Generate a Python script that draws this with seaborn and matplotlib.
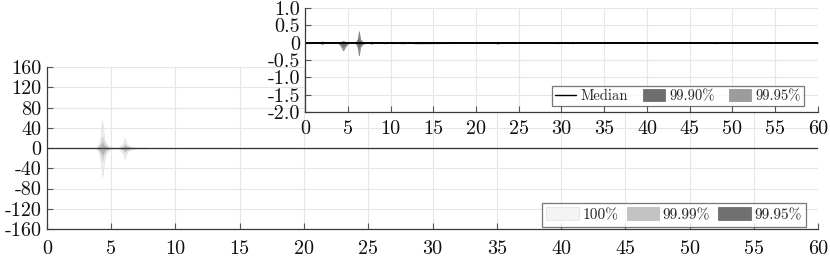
import matplotlib
matplotlib.use("Agg")
import matplotlib.pyplot as plt
import seaborn as sb
import pandas as pd
import numpy as np
from matplotlib.patches import Patch
from matplotlib.lines import Line2D

#================================================
# DATA

# main panel: envelope of the error, x in [0, 60]
main_x = [0, 3.8, 4.0, 4.15, 4.3, 4.45, 4.6, 4.8, 5.0, 5.3, 5.6, 5.9, 6.05, 6.2, 6.4, 6.7, 7.0, 7.4, 7.8, 8.0, 60]
band100_hi = [0, 0.5, 6, 18, 55, 20, 9, 4, 1.5, 1, 2, 8, 20, 8, 4, 2, 1, 1, 1, 0, 0]
band100_lo = [0, -0.5, -6, -20, -57, -24, -10, -5, -2, -1, -2, -9, -21, -9, -4, -2, -1, -1, -1, 0, 0]
band9999_hi = [0, 0.3, 3, 9, 26, 12, 6, 2, 1, 0.5, 1, 4, 9, 5, 3, 1, 0.5, 0.5, 0.5, 0, 0]
band9999_lo = [0, -0.3, -3, -10, -28, -14, -6, -3, -1, -0.5, -1, -4, -10, -5, -3, -1, -0.5, -0.5, -0.5, 0, 0]
band9995_hi = [0, 0.2, 2, 5, 12, 6, 3, 1, 0.5, 0.3, 0.5, 2, 5, 3, 1.5, 0.5, 0.3, 0.3, 0.3, 0, 0]
band9995_lo = [0, -0.2, -2, -6, -14, -7, -3, -1.5, -0.5, -0.3, -0.5, -2, -5, -3, -1.5, -0.5, -0.3, -0.3, -0.3, 0, 0]
main_median = [0] * len(main_x)

# inset panel: zoom on the median and the 99.90% / 99.95% bands
ins_x = [0, 1.8, 2.0, 2.2, 3.8, 4.1, 4.45, 4.8, 5.1, 5.9, 6.15, 6.3, 6.45, 6.8, 7.5, 7.8, 8.1,
         9.0, 9.3, 10.0, 10.3, 11.0, 11.3, 12.5, 12.8, 22.2, 22.5, 22.8, 29.3, 29.6, 29.9,
         31.0, 31.3, 31.6, 47.7, 48.0, 48.3, 60]
b9995_hi = [0, 0, 0.04, 0, 0, 0.02, 0.05, 0.02, 0, 0, 0.1, 0.33, 0.1, 0.01, 0, 0.03, 0,
            0, 0.02, 0, 0.02, 0, 0.02, 0, 0.02, 0, 0.03, 0, 0, 0.02, 0,
            0, 0.02, 0, 0, 0.02, 0, 0]
b9995_lo = [0, 0, -0.04, 0, 0, -0.06, -0.22, -0.08, 0, 0, -0.12, -0.36, -0.12, -0.02, 0, -0.03, 0,
            0, -0.02, 0, -0.02, 0, -0.02, 0, -0.02, 0, -0.03, 0, 0, -0.02, 0,
            0, -0.02, 0, 0, -0.02, 0, 0]
b9990_hi = [0, 0, 0.02, 0, 0, 0.01, 0.03, 0.01, 0, 0, 0.05, 0.18, 0.05, 0.005, 0, 0.01, 0,
            0, 0.01, 0, 0.01, 0, 0.01, 0, 0.01, 0, 0.015, 0, 0, 0.01, 0,
            0, 0.01, 0, 0, 0.01, 0, 0]
b9990_lo = [0, 0, -0.02, 0, 0, -0.03, -0.13, -0.04, 0, 0, -0.06, -0.2, -0.06, -0.01, 0, -0.01, 0,
            0, -0.01, 0, -0.01, 0, -0.01, 0, -0.01, 0, -0.015, 0, 0, -0.01, 0,
            0, -0.01, 0, 0, -0.01, 0, 0]
ins_median = [0] * len(ins_x)

main_yticks = [-160, -120, -80, -40, 0, 40, 80, 120, 160]
ins_yticks = [-2.0, -1.5, -1.0, -0.5, 0, 0.5, 1.0]
ins_ylabels = ['-2.0', '-1.5', '-1.0', '-0.5', '0', '0.5', '1.0']
xticks = list(range(0, 61, 5))

#================================================
# STYLE

sb.set_style("whitegrid")
plt.rcParams['font.family'] = ['cmr10', 'DejaVu Serif']
plt.rcParams['mathtext.fontset'] = 'cm'
plt.rcParams['axes.unicode_minus'] = False
plt.rcParams['axes.formatter.use_mathtext'] = True

grid_c = '#e6e6e6'
spine_c = '#3a3a3a'


def style_axes(ax, fs, xpad, ypad):
    ax.set_facecolor('white')
    ax.grid(True, color=grid_c, linewidth=0.8)
    for s in ['top', 'right']:
        ax.spines[s].set_visible(False)
    for s in ['left', 'bottom']:
        ax.spines[s].set_visible(True)
        ax.spines[s].set_color(spine_c)
        ax.spines[s].set_linewidth(0.9)
    ax.tick_params(direction='in', length=4, width=0.8, color='#555555',
                   labelsize=fs, labelcolor='#111111',
                   bottom=True, left=True)
    ax.tick_params(axis='x', pad=xpad)
    ax.tick_params(axis='y', pad=ypad)
    ax.set_xlabel('')
    ax.set_ylabel('')


fig = plt.figure(figsize=(8.3, 2.61), dpi=100)

#------------------------------------
# main panel
ax = fig.add_axes([0.0566, 0.1226, 0.929, 0.6204])
ax.fill_between(main_x, band100_lo, band100_hi, color='#eeeeee', edgecolor='#e0e0e0', linewidth=0.5)
ax.fill_between(main_x, band9999_lo, band9999_hi, color='#d2d2d2', linewidth=0)
ax.fill_between(main_x, band9995_lo, band9995_hi, color='#b4b4b4', linewidth=0)
sb.lineplot(x=main_x, y=main_median, color='#333333', linewidth=0.9, ax=ax)
ax.set_xlim(0, 60)
ax.set_ylim(-160, 160)
ax.set_xticks(xticks)
ax.set_xticklabels([str(t) for t in xticks])
ax.set_yticks(main_yticks)
ax.set_yticklabels([str(t) for t in main_yticks])
style_axes(ax, 14.5, 8, 4)

h_main = [Patch(facecolor='#f4f4f4', edgecolor='#e0e0e0', linewidth=0.5),
          Patch(facecolor='#c3c3c3', edgecolor='#b5b5b5', linewidth=0.5),
          Patch(facecolor='#707070', edgecolor='#606060', linewidth=0.5)]
leg = ax.legend(h_main, ['100%', '99.99%', '99.95%'], ncol=3, loc='lower right',
                bbox_to_anchor=(0.9845, 0.015), fontsize=11, frameon=True, fancybox=False,
                handlelength=2.15, handleheight=0.9, handletextpad=0.2, columnspacing=0.55,
                borderpad=0.3, borderaxespad=0.0)
leg.get_frame().set_edgecolor('#555555')
leg.get_frame().set_linewidth(0.9)

#------------------------------------
# inset panel
axi = fig.add_axes([0.3675, 0.571, 0.618, 0.398])
axi.fill_between(ins_x, b9995_lo, b9995_hi, color='#9a9a9a', linewidth=0.6, edgecolor='#8a8a8a')
axi.fill_between(ins_x, b9990_lo, b9990_hi, color='#707070', linewidth=0)
sb.lineplot(x=ins_x, y=ins_median, color='black', linewidth=1.4, ax=axi)
axi.set_xlim(0, 60)
axi.set_ylim(-2.0, 1.0)
axi.set_xticks(xticks)
axi.set_xticklabels([str(t) for t in xticks])
axi.set_yticks(ins_yticks)
axi.set_yticklabels(ins_ylabels)
style_axes(axi, 14.5, 6, 3.5)

h_ins = [Line2D([], [], color='black', linewidth=1.0),
         Patch(facecolor='#6e6e6e', edgecolor='#606060', linewidth=0.5),
         Patch(facecolor='#9c9c9c', edgecolor='#8c8c8c', linewidth=0.5)]
legi = axi.legend(h_ins, ['Median', '99.90%', '99.95%'], ncol=3, loc='lower right',
                  bbox_to_anchor=(0.9725, 0.055), fontsize=10.5, frameon=True, fancybox=False,
                  handlelength=1.5, handleheight=0.9, handletextpad=0.3, columnspacing=1.0,
                  borderpad=0.2, borderaxespad=0.0)
legi.get_frame().set_edgecolor('#555555')
legi.get_frame().set_linewidth(0.9)

fig.savefig('out.png', dpi=100, facecolor='white')
